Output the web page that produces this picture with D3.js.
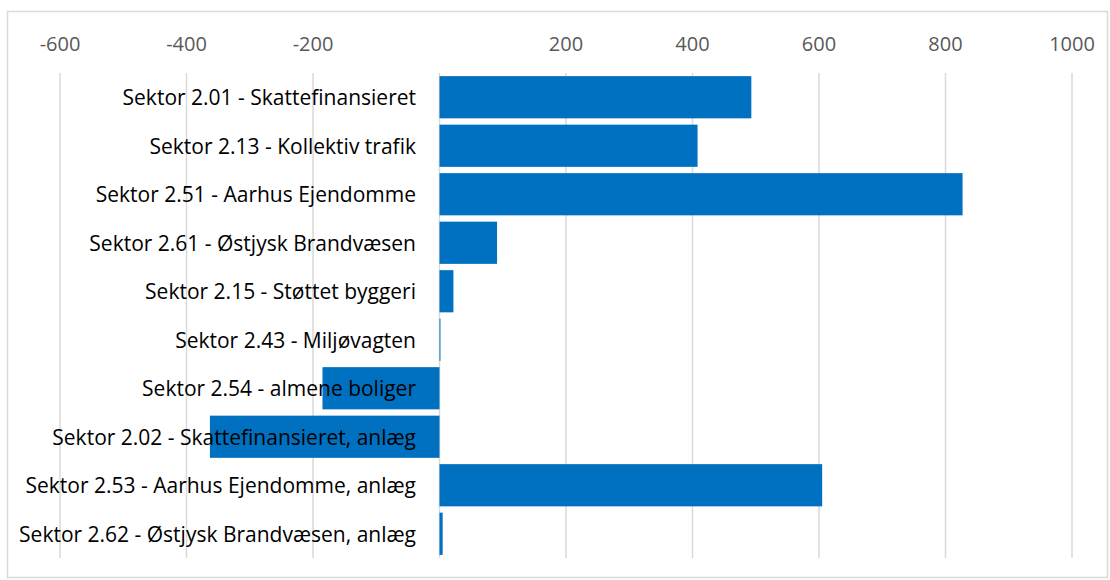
<!DOCTYPE html>
<html>
<head>
<meta charset="utf-8">
<script src="https://cdn.jsdelivr.net/npm/d3@7"></script>
<style>
  body { margin: 0; background: #fff; }
  svg { display: block; }
  text { font-variant-ligatures: none; }
</style>
</head>
<body>
<div id="chart"></div>
<script>
var width = 1110;
var height = 580;

// data, top to bottom
var categories = [
  "Sektor 2.01 - Skattefinansieret",
  "Sektor 2.13 - Kollektiv trafik",
  "Sektor 2.51 - Aarhus Ejendomme",
  "Sektor 2.61 - Østjysk Brandvæsen",
  "Sektor 2.15 - Støttet byggeri",
  "Sektor 2.43 - Miljøvagten",
  "Sektor 2.54 - almene boliger",
  "Sektor 2.02 - Skattefinansieret, anlæg",
  "Sektor 2.53 - Aarhus Ejendomme, anlæg",
  "Sektor 2.62 - Østjysk Brandvæsen, anlæg"
];
var values = [493, 408, 827, 91, 22, 1.5, -185, -363, 605, 5];
var tickValues = [-600, -400, -200, 200, 400, 600, 800, 1000];

var plotTop = 73, plotBottom = 558;
var font = "'Open Sans', Lato, sans-serif";

var x = d3.scaleLinear().domain([-600, 1000]).range([60, 1072]);
var y = d3.scaleBand().domain(categories).range([plotTop, plotBottom]).paddingInner(0.13).paddingOuter(0.065);

var svg = d3.select("#chart").append("svg")
  .attr("width", width)
  .attr("height", height);

// chart border
svg.append("rect")
  .attr("x", 7.5).attr("y", 11.5)
  .attr("width", 1100).attr("height", 566)
  .attr("fill", "#fff")
  .attr("stroke", "#d9d9d9")
  .attr("stroke-width", 1.5);

// gridlines
svg.append("g")
  .selectAll("line")
  .data(tickValues.concat([0]))
  .enter()
  .append("line")
  .attr("x1", function(d) { return x(d); })
  .attr("x2", function(d) { return x(d); })
  .attr("y1", plotTop)
  .attr("y2", plotBottom)
  .attr("stroke", "#d9d9d9")
  .attr("stroke-width", 1.5);

// top axis labels
svg.append("g")
  .selectAll("text")
  .data(tickValues)
  .enter()
  .append("text")
  .attr("x", function(d) { return x(d); })
  .attr("y", 51)
  .attr("text-anchor", "middle")
  .attr("font-family", font)
  .attr("font-size", "20px")
  .attr("fill", "#595959")
  .text(function(d) { return d; });

// bars
svg.append("g")
  .selectAll("rect")
  .data(values)
  .enter()
  .append("rect")
  .attr("x", function(d) { return x(Math.min(0, d)); })
  .attr("y", function(d, i) { return y(categories[i]); })
  .attr("width", function(d) { return Math.abs(x(d) - x(0)); })
  .attr("height", y.bandwidth())
  .attr("fill", "#0070c0");

// category labels (drawn over the bars, like the original)
svg.append("g")
  .selectAll("text")
  .data(categories)
  .enter()
  .append("text")
  .attr("x", 416)
  .attr("y", function(d) { return y(d) + y.bandwidth() / 2 + 8; })
  .attr("text-anchor", "end")
  .attr("font-family", font)
  .attr("font-size", "21px")
  .attr("fill", "#000")
  .text(function(d) { return d; });
</script>
</body>
</html>
